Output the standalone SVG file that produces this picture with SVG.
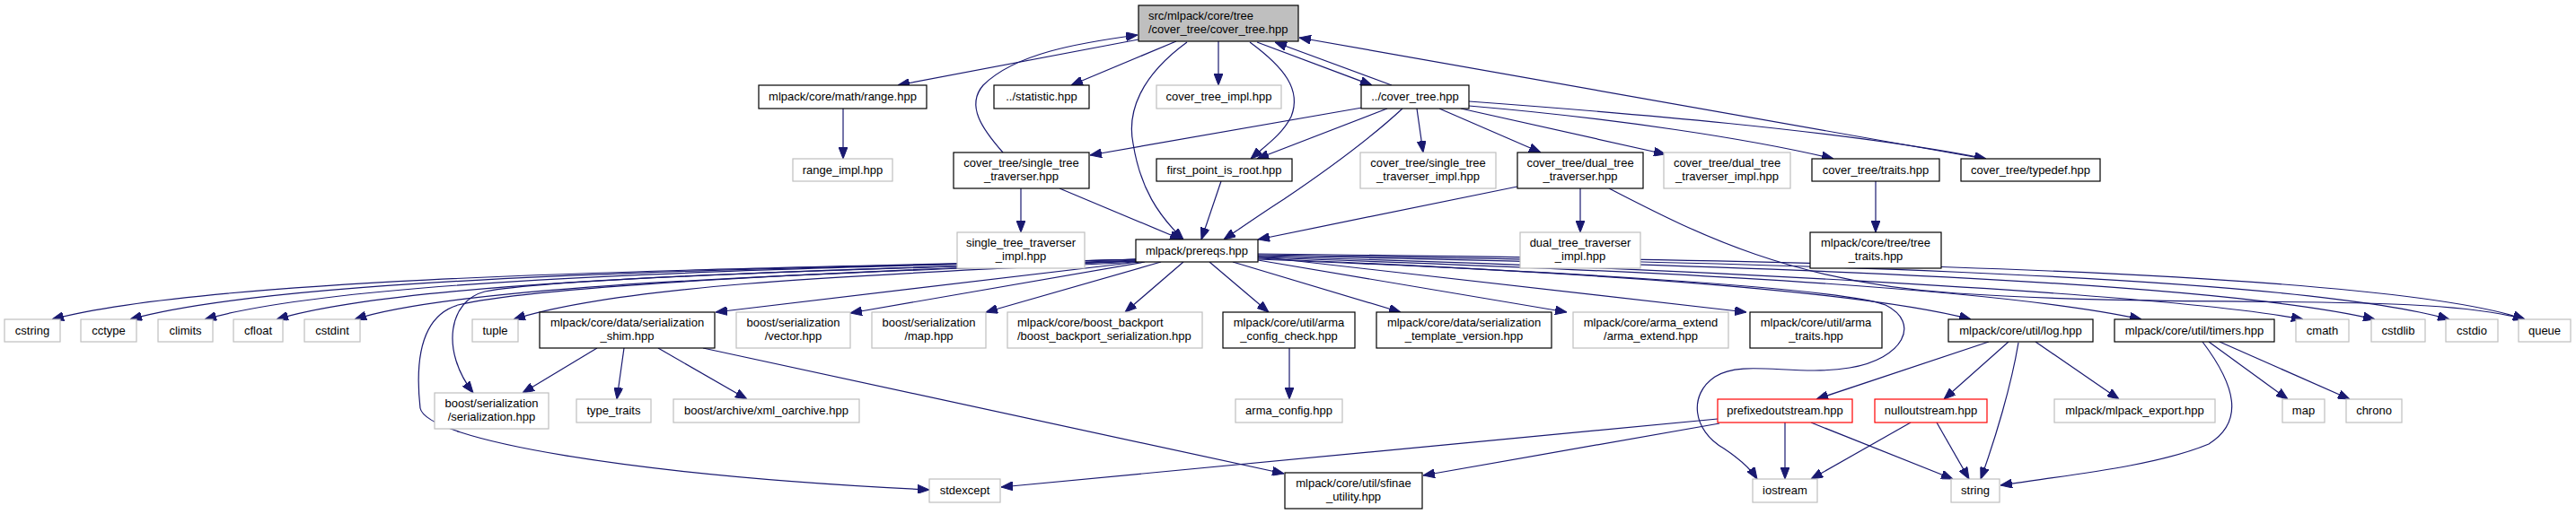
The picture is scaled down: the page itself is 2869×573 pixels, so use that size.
<svg xmlns="http://www.w3.org/2000/svg" width="2869" height="573" viewBox="0 0 2869 573">
<style>
text{font-family:"Liberation Sans",Arial,sans-serif;font-size:13px;fill:#000;text-anchor:middle}
text.l{text-anchor:start}
.node rect{fill:#fff;stroke-width:1.2}
.b rect{stroke:#000}
.g rect{stroke:#bfbfbf}
.r rect{stroke:#ff0000}
.top rect{fill:#bfbfbf;stroke:#000}
#edges path{fill:none;stroke:#191970;stroke-width:1.2;marker-end:url(#arr)}
</style>
<defs>
<marker id="arr" viewBox="0 0 13 10" refX="13" refY="5" markerWidth="13" markerHeight="10" markerUnits="userSpaceOnUse" orient="auto">
<path d="M0,0 L13,5 L0,10 z" fill="#191970" stroke="#191970" stroke-width="1"/>
</marker>
</defs>
<rect width="2869" height="573" fill="#fff"/>
<g id="edges">
<path d="M1268,44 L1000,95"/>
<path d="M1310,46 L1193,95"/>
<path d="M1357,46 L1357,95"/>
<path d="M1322,47 C1270,85 1255,125 1262,160 C1270,210 1290,240 1318,267"/>
<path d="M1392,47 C1430,75 1450,100 1438,130 C1428,150 1410,162 1393,177"/>
<path d="M1400,47 L1528,95"/>
<path d="M1550,95 L1420,47"/>
<path d="M2210,177 L1447,42"/>
<path d="M1117,170 C1095,145 1075,118 1095,95 C1130,60 1200,48 1267,39"/>
<path d="M939,121 L939,177"/>
<path d="M1137,210 L1137,259"/>
<path d="M1180,210 L1316,267"/>
<path d="M1360,202 L1338,267"/>
<path d="M1517,120 L1214,173"/>
<path d="M1545,121 L1400,177"/>
<path d="M1562,121 C1520,160 1470,195 1430,222 C1405,238 1385,252 1363,267"/>
<path d="M1578,121 L1585,170"/>
<path d="M1603,121 L1716,170"/>
<path d="M1627,121 L1855,172"/>
<path d="M1636,118 C1800,132 1950,155 2042,177"/>
<path d="M1636,113 C1800,125 2050,145 2212,177"/>
<path d="M1690,208 L1401,267"/>
<path d="M1760,210 L1760,259"/>
<path d="M1792,210 C1880,255 1990,315 2180,327 C2450,345 2700,325 2812,356"/>
<path d="M2089,202 L2089,259"/>
<path d="M1266,289 C850,300 250,305 58,356"/>
<path d="M1266,289 C880,300 330,305 145,356"/>
<path d="M1266,289 C900,300 400,307 228,356"/>
<path d="M1266,290 C920,302 460,310 308,356"/>
<path d="M1267,291 C950,305 520,315 395,356"/>
<path d="M1268,292 C1000,305 700,315 572,356"/>
<path d="M1268,292 L797,348"/>
<path d="M1275,292 L947,349"/>
<path d="M1293,292 L1098,348"/>
<path d="M1318,292 L1253,348"/>
<path d="M1347,292 L1413,348"/>
<path d="M1373,292 L1560,348"/>
<path d="M1401,290 L1745,348"/>
<path d="M1401,286 L1945,348"/>
<path d="M1401,288 C1650,299 2050,318 2195,356"/>
<path d="M1401,287 C1700,297 2200,315 2385,356"/>
<path d="M1401,286 C1800,296 2400,325 2565,356"/>
<path d="M1401,285 C1850,293 2450,310 2645,356"/>
<path d="M1401,284 C1900,291 2550,305 2728,356"/>
<path d="M1401,283 C1950,289 2650,300 2812,356"/>
<path d="M1266,291 C950,300 620,310 540,325 C500,335 490,390 527,438"/>
<path d="M1266,291 C950,302 600,318 510,340 C470,352 462,400 468,455 C475,490 700,530 1035,546"/>
<path d="M1401,289 C1700,301 2050,320 2100,340 C2140,360 2120,400 2060,410 C2000,420 1940,400 1910,420 C1880,440 1885,480 1920,500 C1935,510 1948,520 1957,534"/>
<path d="M665,388 L582,438"/>
<path d="M695,388 L687,445"/>
<path d="M733,388 L832,445"/>
<path d="M783,388 L1430,528"/>
<path d="M1436,388 L1436,445"/>
<path d="M1915,472 L1585,530"/>
<path d="M1913,467 L1115,543"/>
<path d="M1988,471 L1988,534"/>
<path d="M2017,471 L2175,534"/>
<path d="M2128,471 L2017,534"/>
<path d="M2157,471 L2193,534"/>
<path d="M2215,381 L2023,445"/>
<path d="M2237,381 L2165,445"/>
<path d="M2248,382 C2240,430 2222,490 2206,534"/>
<path d="M2267,381 L2360,445"/>
<path d="M2453,381 C2490,430 2500,470 2460,495 C2400,520 2300,530 2228,541"/>
<path d="M2460,381 L2548,445"/>
<path d="M2472,381 L2617,445"/>
</g>
<g id="n_top" class="node top"><rect x="1268" y="6" width="178" height="40"/><text class="l" x="1279" y="22">src/mlpack/core/tree</text><text class="l" x="1279" y="37">/cover_tree/cover_tree.hpp</text></g>
<g id="n_range" class="node b"><rect x="845" y="95" width="187" height="26"/><text x="938.5" y="112">mlpack/core/math/range.hpp</text></g>
<g id="n_statistic" class="node b"><rect x="1107" y="95" width="106" height="26"/><text x="1160" y="112">../statistic.hpp</text></g>
<g id="n_ct_impl" class="node g"><rect x="1288" y="95" width="139" height="26"/><text x="1357.5" y="112">cover_tree_impl.hpp</text></g>
<g id="n_cover_tree" class="node b"><rect x="1516" y="95" width="120" height="26"/><text x="1576" y="112">../cover_tree.hpp</text></g>
<g id="n_range_impl" class="node g"><rect x="883" y="177" width="111" height="25"/><text x="938.5" y="194">range_impl.hpp</text></g>
<g id="n_stt" class="node b"><rect x="1062" y="170" width="151" height="40"/><text x="1137.5" y="186">cover_tree/single_tree</text><text x="1137.5" y="201">_traverser.hpp</text></g>
<g id="n_fpir" class="node b"><rect x="1288" y="177" width="151" height="25"/><text x="1363.5" y="194">first_point_is_root.hpp</text></g>
<g id="n_ct_stti" class="node g"><rect x="1515" y="170" width="151" height="40"/><text x="1590.5" y="186">cover_tree/single_tree</text><text x="1590.5" y="201">_traverser_impl.hpp</text></g>
<g id="n_dtt" class="node b"><rect x="1690" y="170" width="140" height="40"/><text x="1760" y="186">cover_tree/dual_tree</text><text x="1760" y="201">_traverser.hpp</text></g>
<g id="n_ct_dtti" class="node g"><rect x="1853" y="170" width="141" height="40"/><text x="1923.5" y="186">cover_tree/dual_tree</text><text x="1923.5" y="201">_traverser_impl.hpp</text></g>
<g id="n_traits" class="node b"><rect x="2018" y="177" width="142" height="25"/><text x="2089" y="194">cover_tree/traits.hpp</text></g>
<g id="n_typedef" class="node b"><rect x="2184" y="177" width="155" height="25"/><text x="2261.5" y="194">cover_tree/typedef.hpp</text></g>
<g id="n_stti" class="node g"><rect x="1066" y="259" width="142" height="40"/><text x="1137" y="275">single_tree_traverser</text><text x="1137" y="290">_impl.hpp</text></g>
<g id="n_prereqs" class="node b"><rect x="1265" y="267" width="136" height="25"/><text x="1333" y="284">mlpack/prereqs.hpp</text></g>
<g id="n_dtti" class="node g"><rect x="1693" y="259" width="134" height="40"/><text x="1760" y="275">dual_tree_traverser</text><text x="1760" y="290">_impl.hpp</text></g>
<g id="n_tree_traits" class="node b"><rect x="2016" y="259" width="146" height="40"/><text x="2089" y="275">mlpack/core/tree/tree</text><text x="2089" y="290">_traits.hpp</text></g>
<g id="n_cstring" class="node g"><rect x="5" y="356" width="62" height="25"/><text x="36" y="373">cstring</text></g>
<g id="n_cctype" class="node g"><rect x="90" y="356" width="62" height="25"/><text x="121" y="373">cctype</text></g>
<g id="n_climits" class="node g"><rect x="176" y="356" width="61" height="25"/><text x="206.5" y="373">climits</text></g>
<g id="n_cfloat" class="node g"><rect x="260" y="356" width="55" height="25"/><text x="287.5" y="373">cfloat</text></g>
<g id="n_cstdint" class="node g"><rect x="339" y="356" width="62" height="25"/><text x="370" y="373">cstdint</text></g>
<g id="n_tuple" class="node g"><rect x="526" y="356" width="51" height="25"/><text x="551.5" y="373">tuple</text></g>
<g id="n_shim" class="node b"><rect x="601" y="348" width="195" height="40"/><text x="698.5" y="364">mlpack/core/data/serialization</text><text x="698.5" y="379">_shim.hpp</text></g>
<g id="n_vector" class="node g"><rect x="820" y="348" width="127" height="40"/><text x="883.5" y="364">boost/serialization</text><text x="883.5" y="379">/vector.hpp</text></g>
<g id="n_maphpp" class="node g"><rect x="971" y="348" width="127" height="40"/><text x="1034.5" y="364">boost/serialization</text><text x="1034.5" y="379">/map.hpp</text></g>
<g id="n_backport" class="node g"><rect x="1122" y="348" width="217" height="40"/><text class="l" x="1133" y="364">mlpack/core/boost_backport</text><text class="l" x="1133" y="379">/boost_backport_serialization.hpp</text></g>
<g id="n_acc" class="node b"><rect x="1362" y="348" width="147" height="40"/><text x="1435.5" y="364">mlpack/core/util/arma</text><text x="1435.5" y="379">_config_check.hpp</text></g>
<g id="n_stv" class="node b"><rect x="1533" y="348" width="195" height="40"/><text x="1630.5" y="364">mlpack/core/data/serialization</text><text x="1630.5" y="379">_template_version.hpp</text></g>
<g id="n_ae" class="node g"><rect x="1752" y="348" width="173" height="40"/><text x="1838.5" y="364">mlpack/core/arma_extend</text><text x="1838.5" y="379">/arma_extend.hpp</text></g>
<g id="n_at" class="node b"><rect x="1949" y="348" width="147" height="40"/><text x="2022.5" y="364">mlpack/core/util/arma</text><text x="2022.5" y="379">_traits.hpp</text></g>
<g id="n_log" class="node b"><rect x="2170" y="356" width="161" height="25"/><text x="2250.5" y="373">mlpack/core/util/log.hpp</text></g>
<g id="n_timers" class="node b"><rect x="2355" y="356" width="178" height="25"/><text x="2444" y="373">mlpack/core/util/timers.hpp</text></g>
<g id="n_cmath" class="node g"><rect x="2557" y="356" width="59" height="25"/><text x="2586.5" y="373">cmath</text></g>
<g id="n_cstdlib" class="node g"><rect x="2641" y="356" width="60" height="25"/><text x="2671" y="373">cstdlib</text></g>
<g id="n_cstdio" class="node g"><rect x="2724" y="356" width="58" height="25"/><text x="2753" y="373">cstdio</text></g>
<g id="n_queue" class="node g"><rect x="2805" y="356" width="58" height="25"/><text x="2834" y="373">queue</text></g>
<g id="n_ser" class="node g"><rect x="484" y="438" width="127" height="40"/><text x="547.5" y="454">boost/serialization</text><text x="547.5" y="469">/serialization.hpp</text></g>
<g id="n_type_traits" class="node g"><rect x="642" y="445" width="83" height="26"/><text x="683.5" y="462">type_traits</text></g>
<g id="n_xml" class="node g"><rect x="750" y="445" width="207" height="26"/><text x="853.5" y="462">boost/archive/xml_oarchive.hpp</text></g>
<g id="n_arma_config" class="node g"><rect x="1376" y="445" width="119" height="26"/><text x="1435.5" y="462">arma_config.hpp</text></g>
<g id="n_prefixed" class="node r"><rect x="1913" y="445" width="150" height="26"/><text x="1988" y="462">prefixedoutstream.hpp</text></g>
<g id="n_null" class="node r"><rect x="2088" y="445" width="125" height="26"/><text x="2150.5" y="462">nulloutstream.hpp</text></g>
<g id="n_export" class="node g"><rect x="2288" y="445" width="179" height="26"/><text x="2377.5" y="462">mlpack/mlpack_export.hpp</text></g>
<g id="n_map" class="node g"><rect x="2542" y="445" width="47" height="26"/><text x="2565.5" y="462">map</text></g>
<g id="n_chrono" class="node g"><rect x="2613" y="445" width="62" height="26"/><text x="2644" y="462">chrono</text></g>
<g id="n_stdexcept" class="node g"><rect x="1035" y="534" width="79" height="26"/><text x="1074.5" y="551">stdexcept</text></g>
<g id="n_sfinae" class="node b"><rect x="1431" y="527" width="153" height="40"/><text x="1507.5" y="543">mlpack/core/util/sfinae</text><text x="1507.5" y="558">_utility.hpp</text></g>
<g id="n_iostream" class="node g"><rect x="1952" y="534" width="72" height="26"/><text x="1988" y="551">iostream</text></g>
<g id="n_string" class="node g"><rect x="2173" y="534" width="54" height="26"/><text x="2200" y="551">string</text></g>
</svg>
